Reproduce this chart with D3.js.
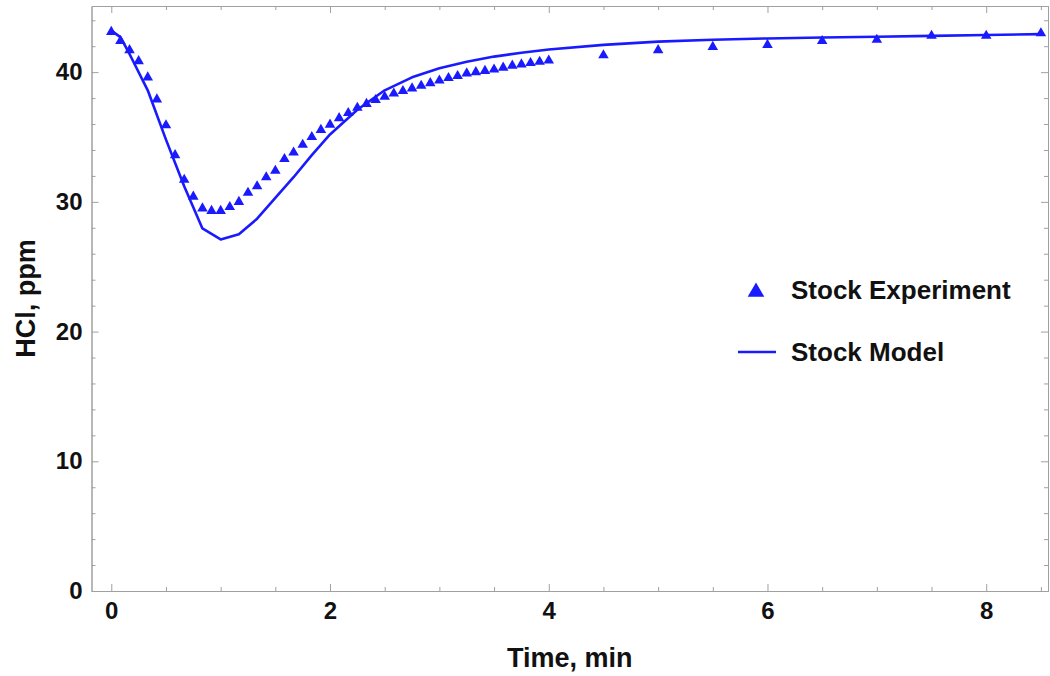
<!DOCTYPE html>
<meta charset="utf-8">
<head>
    <script src="https://d3js.org/d3.v7.min.js"></script>
    <style>
        body { margin: 0; background: white; }
        text { font-family: "Liberation Sans", Arial, sans-serif; font-weight: bold; }
        .frame path.domain { stroke: #a0a0a0; }
        .frame line { stroke: #a0a0a0; }
    </style>
</head>
<body>
<div class="viz"></div>
<script>
    var width = 1050,
        height = 676;

    // experiment: every 5 s up to 4 min, then every 30 s
    var expTime = [0, 1/12, 2/12, 3/12, 4/12, 5/12, 6/12, 7/12, 8/12, 9/12, 10/12, 11/12,
        1, 13/12, 14/12, 15/12, 16/12, 17/12, 18/12, 19/12, 20/12, 21/12, 22/12, 23/12,
        2, 25/12, 26/12, 27/12, 28/12, 29/12, 30/12, 31/12, 32/12, 33/12, 34/12, 35/12,
        3, 37/12, 38/12, 39/12, 40/12, 41/12, 42/12, 43/12, 44/12, 45/12, 46/12, 47/12,
        4, 4.5, 5, 5.5, 6, 6.5, 7, 7.5, 8, 8.5];
    var expHCl = [43.1, 42.4, 41.7, 40.85, 39.6, 37.9, 35.9, 33.6, 31.7, 30.4, 29.5, 29.3,
        29.3, 29.6, 30.0, 30.7, 31.2, 31.9, 32.4, 33.3, 33.8, 34.4, 35.0, 35.55,
        35.95, 36.45, 36.85, 37.25, 37.55, 37.85, 38.1, 38.35, 38.55, 38.75, 38.95, 39.15,
        39.35, 39.55, 39.7, 39.9, 40.0, 40.1, 40.2, 40.35, 40.5, 40.6, 40.7, 40.8,
        40.9, 41.3, 41.7, 41.95, 42.1, 42.4, 42.5, 42.8, 42.8, 43.0];

    var modelTime = [0, 1/12, 1/6, 2/6, 3/6, 4/6, 5/6, 1, 7/6, 8/6, 9/6, 10/6, 11/6, 2,
        2.25, 2.5, 2.75, 3, 3.25, 3.5, 3.75, 4, 4.5, 5, 5.5, 6, 6.5, 7, 7.5, 8, 8.5];
    var modelHCl = [43.2, 42.7, 41.4, 38.6, 34.8, 31.2, 27.95, 27.1, 27.5, 28.7, 30.3, 31.9, 33.6, 35.2,
        37.1, 38.6, 39.6, 40.3, 40.8, 41.2, 41.5, 41.75, 42.1, 42.35, 42.5, 42.6, 42.67, 42.73, 42.8, 42.87, 42.93];

    var xMajor = [0, 2, 4, 6, 8],
        xMinor = [0.5, 1, 1.5, 2.5, 3, 3.5, 4.5, 5, 5.5, 6.5, 7, 7.5, 8.5],
        yMajor = [0, 10, 20, 30, 40],
        yMinor = [2, 4, 6, 8, 12, 14, 16, 18, 22, 24, 26, 28, 32, 34, 36, 38, 42, 44];

    var legendLabels = ["Stock Experiment", "Stock Model"];

    var plotL = 91.5, plotR = 1048, plotT = 6, plotB = 591;
    var blue = "#1a1aff";

    var x = d3.scaleLinear().domain([-0.181, 8.565]).range([plotL, plotR]);
    var y = d3.scaleLinear().domain([0, 45.1]).range([plotB, plotT]);

    var svg = d3.select("div.viz").append("svg")
        .attr("width", width)
        .attr("height", height);

    // frame with ticks on all four sides
    function styleAxis(g) {
        g.attr("class", "frame");
        g.selectAll("text").style("font-size", "24px").attr("fill", "#111");
    }

    svg.append("g").attr("transform", "translate(0," + plotB + ")")
        .call(d3.axisBottom(x).tickValues(xMajor).tickSize(-7).tickPadding(11).tickSizeOuter(0))
        .call(styleAxis);
    svg.append("g").attr("transform", "translate(0," + plotB + ")")
        .call(d3.axisBottom(x).tickValues(xMinor).tickSize(-4).tickFormat("").tickSizeOuter(0))
        .call(styleAxis);
    svg.append("g").attr("transform", "translate(0," + plotT + ")")
        .call(d3.axisTop(x).tickValues(xMajor).tickSize(-7).tickFormat("").tickSizeOuter(0))
        .call(styleAxis);
    svg.append("g").attr("transform", "translate(0," + plotT + ")")
        .call(d3.axisTop(x).tickValues(xMinor).tickSize(-4).tickFormat("").tickSizeOuter(0))
        .call(styleAxis);
    svg.append("g").attr("transform", "translate(" + plotL + ",0)")
        .call(d3.axisLeft(y).tickValues(yMajor).tickSize(-7).tickPadding(9).tickSizeOuter(0))
        .call(styleAxis);
    svg.append("g").attr("transform", "translate(" + plotL + ",0)")
        .call(d3.axisLeft(y).tickValues(yMinor).tickSize(-4).tickFormat("").tickSizeOuter(0))
        .call(styleAxis);
    svg.append("g").attr("transform", "translate(" + plotR + ",0)")
        .call(d3.axisRight(y).tickValues(yMajor).tickSize(-7).tickFormat("").tickSizeOuter(0))
        .call(styleAxis);
    svg.append("g").attr("transform", "translate(" + plotR + ",0)")
        .call(d3.axisRight(y).tickValues(yMinor).tickSize(-4).tickFormat("").tickSizeOuter(0))
        .call(styleAxis);

    // model line
    var line = d3.line()
        .x(function(d, i) { return x(modelTime[i]); })
        .y(function(d) { return y(d); });

    svg.append("path")
        .datum(modelHCl)
        .attr("d", line)
        .style("fill", "none")
        .style("stroke", blue)
        .style("stroke-width", 2.6)
        .style("stroke-linejoin", "round");

    // experiment triangles
    var tri = d3.symbol().type(d3.symbolTriangle).size(48);
    svg.selectAll("path.pt")
        .data(expHCl)
        .enter().append("path")
        .attr("class", "pt")
        .attr("d", tri)
        .attr("transform", function(d, i) { return "translate(" + x(expTime[i]) + "," + y(d) + ")"; })
        .style("fill", blue);

    // axis titles
    svg.append("text")
        .attr("x", (plotL + plotR) / 2)
        .attr("y", 667)
        .attr("text-anchor", "middle")
        .style("font-size", "27px")
        .attr("fill", "#111")
        .text("Time, min");

    svg.append("text")
        .attr("transform", "translate(35," + (plotT + plotB) / 2 + ") rotate(-90)")
        .attr("text-anchor", "middle")
        .style("font-size", "27px")
        .attr("fill", "#111")
        .text("HCl, ppm");

    // legend
    var lg = svg.append("g");
    lg.append("path")
        .attr("d", d3.symbol().type(d3.symbolTriangle).size(120))
        .attr("transform", "translate(756,292)")
        .style("fill", blue);
    lg.append("line")
        .attr("x1", 738).attr("x2", 776)
        .attr("y1", 352).attr("y2", 352)
        .style("stroke", blue)
        .style("stroke-width", 2.6);
    lg.selectAll("text.leg")
        .data(legendLabels)
        .enter().append("text")
        .attr("class", "leg")
        .attr("x", 791)
        .attr("y", function(d, i) { return 299 + i * 62; })
        .style("font-size", "26px")
        .attr("fill", "#111")
        .text(function(d) { return d; });
</script>
</body>
